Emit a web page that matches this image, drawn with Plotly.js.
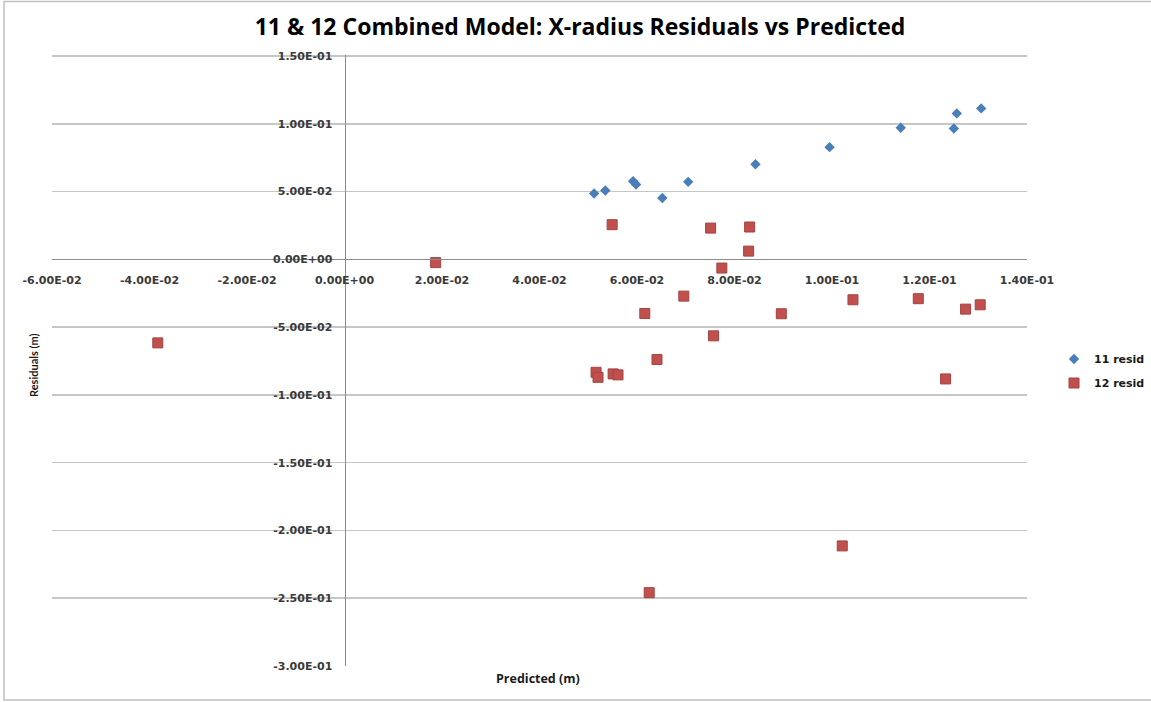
<!DOCTYPE html>
<html>
<head>
<meta charset="utf-8">
<script src="https://cdn.plot.ly/plotly-3.0.1.min.js"></script>
<style>
  html, body { margin: 0; padding: 0; background: #ffffff; overflow: hidden; }
  #chart { width: 1151px; height: 702px; }
</style>
</head>
<body>
<div id="chart"></div>
<script>
// Residuals against predicted X-radius for the two data sets (metres)
const pred11 = [0.0512, 0.0535, 0.0592, 0.0598, 0.0652, 0.0705, 0.0843, 0.0995, 0.1141, 0.1250, 0.1256, 0.1306];
const resid11 = [0.0486, 0.0508, 0.0577, 0.0552, 0.0453, 0.0572, 0.0702, 0.0828, 0.0971, 0.0966, 0.1077, 0.1114];

const pred12 = [-0.0383, 0.0187, 0.0549, 0.0751, 0.0831, 0.0829, 0.0774, 0.0696, 0.0616, 0.0896,
                0.0757, 0.0641, 0.0516, 0.0520, 0.0551, 0.0561, 0.1043, 0.1177, 0.1274, 0.1304,
                0.1233, 0.0625, 0.1021];
const resid12 = [-0.0616, -0.0024, 0.0256, 0.0231, 0.0239, 0.0061, -0.0064, -0.0271, -0.0399, -0.0401,
                 -0.0564, -0.0739, -0.0833, -0.0870, -0.0845, -0.0852, -0.0298, -0.0290, -0.0367, -0.0335,
                 -0.0882, -0.2459, -0.2114];

// Axis ticks in Excel-style scientific notation
const xTickVals = [-0.06, -0.04, -0.02, 0, 0.02, 0.04, 0.06, 0.08, 0.10, 0.12, 0.14];
const xTickText = ['-6.00E-02', '-4.00E-02', '-2.00E-02', '0.00E+00', '2.00E-02', '4.00E-02',
                   '6.00E-02', '8.00E-02', '1.00E-01', '1.20E-01', '1.40E-01'];
const yTickVals = [-0.30, -0.25, -0.20, -0.15, -0.10, -0.05, 0, 0.05, 0.10, 0.15];
const yTickText = ['-3.00E-01', '-2.50E-01', '-2.00E-01', '-1.50E-01', '-1.00E-01', '-5.00E-02',
                   '0.00E+00', '5.00E-02', '1.00E-01', '1.50E-01'];

// A little headroom keeps the 0.15 gridline clear of the plot edge so it is drawn
const xRange = [-0.06, 0.14];
const yRange = [-0.30, 0.1508];

const tickFont = { family: 'DejaVu Sans', size: 11, color: '#3a3a3a', weight: 'bold' };

const traces = [
  {
    x: pred11, y: resid11, name: '11 resid', type: 'scatter', mode: 'markers',
    legendgroup: 'a',
    marker: { symbol: 'diamond', size: 8, color: '#4a7ebb', line: { width: 0 } }
  },
  {
    x: pred12, y: resid12, name: '12 resid', type: 'scatter', mode: 'markers',
    legendgroup: 'b',
    marker: { symbol: 'square', size: 10, color: '#c0504d', line: { width: 1, color: '#a54340' } }
  }
];

// Axes cross at the origin, as in the spreadsheet chart
const yCross = (0 - yRange[0]) / (yRange[1] - yRange[0]);
const xCross = (0 - xRange[0]) / (xRange[1] - xRange[0]);

const W = 1151, H = 702;
const M = { l: 52, r: 124, t: 55, b: 36 };
const pw = W - M.l - M.r, ph = H - M.t - M.b;
// pixel -> paper helpers for the frame and the free-standing labels
const px = v => (v - M.l) / pw;
const py = v => (H - M.b - v) / ph;

const layout = {
  width: W, height: H,
  margin: { l: M.l, r: M.r, t: M.t, b: M.b, autoexpand: false },
  paper_bgcolor: '#ffffff', plot_bgcolor: '#ffffff',
  showlegend: true,
  title: {
    text: '11 & 12 Combined Model: X-radius Residuals vs Predicted',
    font: { family: 'Open Sans', size: 23, color: '#000000', weight: 'bold' },
    xref: 'container', x: 580 / W, xanchor: 'center',
    yref: 'container', y: 1 - 27 / H, yanchor: 'middle'
  },
  xaxis: {
    range: xRange, autorange: false,
    anchor: 'free', position: yCross, side: 'bottom',
    tickmode: 'array', tickvals: xTickVals, ticktext: xTickText,
    ticks: '', ticklabelstandoff: 10,
    showgrid: false, zeroline: false,
    showline: true, linecolor: '#8c8c8c', linewidth: 1,
    tickfont: tickFont
  },
  yaxis: {
    range: yRange, autorange: false,
    anchor: 'free', position: xCross, side: 'left',
    tickmode: 'array', tickvals: yTickVals, ticktext: yTickText,
    ticks: '', ticklabelstandoff: 10,
    showgrid: true, gridcolor: '#c6c6c6', gridwidth: 1.5,
    zeroline: false,
    showline: true, linecolor: '#8c8c8c', linewidth: 1,
    tickfont: tickFont
  },
  legend: {
    x: px(1054), xanchor: 'left', y: py(371), yanchor: 'middle',
    font: { family: 'DejaVu Sans', size: 11, color: '#1a1a1a', weight: 'bold' },
    tracegroupgap: 5, bgcolor: 'rgba(0,0,0,0)'
  },
  annotations: [
    {
      text: 'Predicted (m)', xref: 'paper', yref: 'paper', x: px(538), y: py(678),
      xanchor: 'center', yanchor: 'middle', showarrow: false,
      font: { family: 'Open Sans', size: 12.5, color: '#1a1a1a', weight: 'bold' }
    },
    {
      text: 'Residuals (m)', xref: 'paper', yref: 'paper', x: px(33), y: py(365),
      xanchor: 'center', yanchor: 'middle', textangle: -90, showarrow: false,
      font: { family: 'Lato', size: 11, color: '#1a1a1a', weight: 'bold' }
    }
  ],
  shapes: [
    {
      // chart frame: left, top and bottom edges (the right edge runs off the canvas)
      type: 'rect', xref: 'paper', yref: 'paper', layer: 'below',
      x0: px(4), x1: px(1165), y0: py(700), y1: py(1.5),
      line: { color: '#c0c0c0', width: 1.5 }, fillcolor: 'rgba(0,0,0,0)'
    }
  ]
};

Plotly.newPlot('chart', traces, layout, { displayModeBar: false, staticPlot: true });
</script>
</body>
</html>
